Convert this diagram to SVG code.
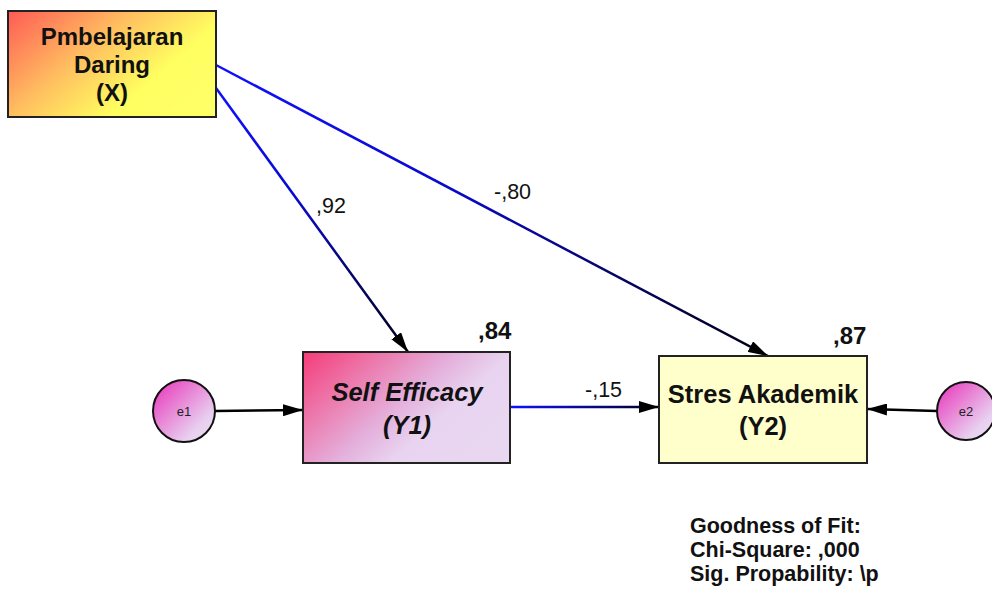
<svg xmlns="http://www.w3.org/2000/svg" width="992" height="589" viewBox="0 0 992 589">
<style>
.box{stroke:#222;stroke-width:2}
.lbl{font-family:"Liberation Sans",Arial,sans-serif;font-weight:bold;fill:#111;text-anchor:middle}
.num{font-family:"Liberation Sans",Arial,sans-serif;font-size:21.5px;fill:#111}
.bnum{font-family:"Liberation Sans",Arial,sans-serif;font-size:24px;font-weight:bold;fill:#111}
.err{font-family:"Liberation Sans",Arial,sans-serif;font-size:13px;fill:#222;text-anchor:middle}
.conn{fill:none;stroke-width:2.5}
</style>
<defs>
<linearGradient id="gX" x1="0" y1="0" x2="1" y2="0.6">
<stop offset="0" stop-color="#ff5a55"/>
<stop offset="0.45" stop-color="#ffc060"/>
<stop offset="0.8" stop-color="#ffff60"/>
<stop offset="1" stop-color="#ffff66"/>
</linearGradient>
<linearGradient id="gY1" x1="0" y1="0" x2="1" y2="0.6">
<stop offset="0" stop-color="#f53c78"/>
<stop offset="0.55" stop-color="#e4b0dc"/>
<stop offset="0.75" stop-color="#e8d4f0"/>
<stop offset="1" stop-color="#e9d6f1"/>
</linearGradient>
<linearGradient id="gE" x1="0" y1="0" x2="1" y2="1">
<stop offset="0" stop-color="#e830b8"/>
<stop offset="0.75" stop-color="#e8d0f0"/>
<stop offset="1" stop-color="#eee0f4"/>
</linearGradient>
<linearGradient id="l1" gradientUnits="userSpaceOnUse" x1="216" y1="88" x2="408" y2="352">
<stop offset="0" stop-color="#1010ff"/>
<stop offset="0.4" stop-color="#0a0ad0"/>
<stop offset="1" stop-color="#000010"/>
</linearGradient>
<linearGradient id="l2" gradientUnits="userSpaceOnUse" x1="216" y1="65" x2="768" y2="356">
<stop offset="0" stop-color="#1010ff"/>
<stop offset="0.4" stop-color="#0a0ad0"/>
<stop offset="1" stop-color="#000010"/>
</linearGradient>
<linearGradient id="l3" gradientUnits="userSpaceOnUse" x1="510" y1="407" x2="659" y2="407">
<stop offset="0" stop-color="#1010ff"/>
<stop offset="1" stop-color="#000020"/>
</linearGradient>
<marker id="ah" viewBox="0 0 20 12" refX="20" refY="6" markerWidth="20" markerHeight="12" markerUnits="userSpaceOnUse" orient="auto">
<path d="M0,0 L20,6 L0,12 Z" fill="#000"/>
</marker>
</defs>

<g id="connectors">
<path class="conn" stroke="url(#l1)" d="M216,88 L408,352" marker-end="url(#ah)"/>
<path class="conn" stroke="url(#l2)" d="M216,65 L768,356" marker-end="url(#ah)"/>
<path class="conn" stroke="url(#l3)" d="M510,407 L659,407" marker-end="url(#ah)"/>
<path class="conn" stroke="#000" stroke-width="2" d="M215,411 L303,410" marker-end="url(#ah)"/>
<path class="conn" stroke="#000" stroke-width="2" d="M937,411 L867,409" marker-end="url(#ah)"/>
<text class="num" x="316" y="213">,92</text>
<text class="num" x="494" y="199">-,80</text>
<text class="num" x="585" y="397">-,15</text>
</g>

<g id="nodeX">
<rect class="box" x="8" y="11" width="208" height="106" fill="url(#gX)"/>
<text class="lbl" font-size="24" x="112" y="45">Pmbelajaran</text>
<text class="lbl" font-size="24" x="112" y="73">Daring</text>
<text class="lbl" font-size="24" x="112" y="101">(X)</text>
</g>

<g id="nodeY1">
<rect class="box" x="303" y="352" width="207" height="111" fill="url(#gY1)"/>
<text class="lbl" font-size="25.5" font-style="italic" x="407" y="401">Self Efficacy</text>
<text class="lbl" font-size="25.5" font-style="italic" x="407" y="434">(Y1)</text>
<text class="bnum" x="478" y="339">,84</text>
</g>

<g id="nodeY2">
<rect class="box" x="659" y="356" width="208" height="107" fill="#ffffcc"/>
<text class="lbl" font-size="25.5" x="763" y="403">Stres Akademik</text>
<text class="lbl" font-size="25.5" x="763" y="435">(Y2)</text>
<text class="bnum" x="833" y="344">,87</text>
</g>

<g id="e1">
<circle cx="184" cy="411" r="31" fill="url(#gE)" stroke="#111" stroke-width="2"/>
<text class="err" x="184" y="416">e1</text>
</g>

<g id="e2">
<circle cx="966" cy="411" r="29" fill="url(#gE)" stroke="#111" stroke-width="2"/>
<text class="err" x="966" y="416">e2</text>
</g>

<g id="fit">
<text font-family="Liberation Sans, Arial, sans-serif" font-weight="bold" font-size="21.5" fill="#111">
<tspan x="690" y="533">Goodness of Fit:</tspan>
<tspan x="690" y="557">Chi-Square: ,000</tspan>
<tspan x="690" y="581">Sig. Propability: \p</tspan>
</text>
</g>
</svg>
